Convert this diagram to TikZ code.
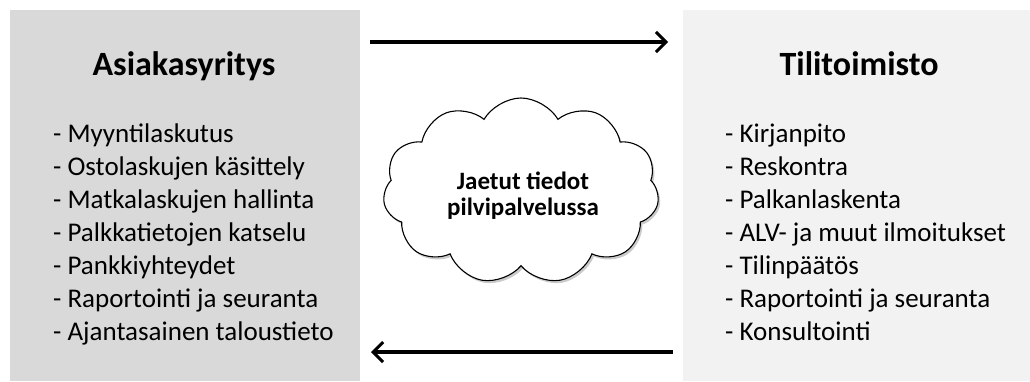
\documentclass[tikz,border=0pt]{standalone}
\usepackage{fontspec}
\setmainfont{Carlito}
\usetikzlibrary{shapes.symbols,arrows.meta,shadows}
\definecolor{leftgray}{HTML}{D9D9D9}
\definecolor{rightgray}{HTML}{F2F2F2}
\begin{document}
\begin{tikzpicture}[x=1pt,y=-1pt,
  panel/.style={rectangle,inner sep=0pt,anchor=north west},
  titletext/.style={font=\fontsize{34}{40}\selectfont\bfseries,anchor=base,inner sep=0pt},
  itemtext/.style={font=\fontsize{27}{33}\selectfont,anchor=base west,inner sep=0pt},
  flow/.style={line width=3.4pt,-{Straight Barb[length=10pt,width=20pt,line width=3pt]}},
  cloudshape/.style={cloud,cloud puffs=11,cloud puff arc=120,aspect=1.5,draw=black,line width=1.1pt,fill=white,
     minimum width=276pt,minimum height=186pt,inner sep=0pt,
     drop shadow={shadow xshift=2pt,shadow yshift=-2.5pt,fill=black!40}},
  ]
\useasboundingbox (0,0) rectangle (1030,381);
\fill[white] (0,0) rectangle (1030,381);
\node[panel,fill=leftgray,minimum width=350pt,minimum height=371pt] (lp) at (10,10) {};
\node[panel,fill=rightgray,minimum width=347pt,minimum height=371pt] (rp) at (683,10) {};
\node[titletext] (lt) at (184,75) {Asiakasyritys};
\node[titletext] (rt) at (859,75) {Tilitoimisto};
\foreach \t [count=\i] in {Myyntilaskutus,Ostolaskujen käsittely,Matkalaskujen hallinta,Palkkatietojen katselu,Pankkiyhteydet,Raportointi ja seuranta,Ajantasainen taloustieto}
  \node[itemtext] (l\i) at (53,{142+33*(\i-1)}) {- \t};
\foreach \t [count=\i] in {Kirjanpito,Reskontra,Palkanlaskenta,ALV- ja muut ilmoitukset,Tilinpäätös,Raportointi ja seuranta,Konsultointi}
  \node[itemtext] (r\i) at (725,{142+33*(\i-1)}) {- \t};
\node[cloudshape] (cl) at (521,191) {};
\node[font=\fontsize{25}{26}\selectfont\bfseries,align=center,inner sep=0pt] (ct) at (523,196) {Jaetut tiedot\\pilvipalvelussa};
\coordinate (a1s) at (370,42);
\coordinate (a1e) at (668,42);
\coordinate (a2s) at (673,352);
\coordinate (a2e) at (371,352);
\draw[flow] (a1s) -- (a1e);
\draw[flow] (a2s) -- (a2e);
\end{tikzpicture}
\end{document}
